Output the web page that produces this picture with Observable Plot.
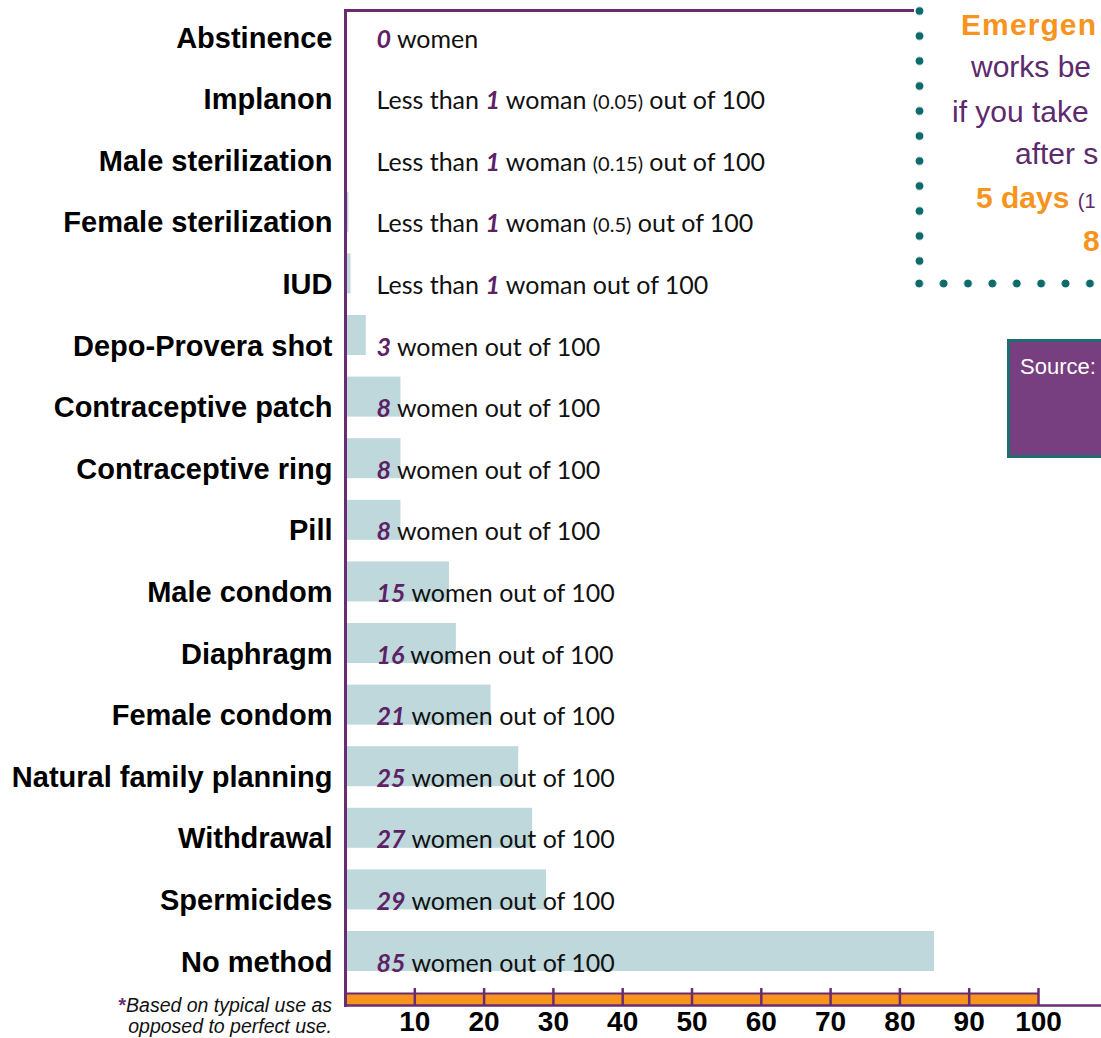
<!DOCTYPE html>
<html>
<head>
<meta charset="utf-8">
<script src="https://cdn.jsdelivr.net/npm/d3@7"></script>
<script src="https://cdn.jsdelivr.net/npm/@observablehq/plot@0.6"></script>
<style>
html, body { margin: 0; padding: 0; overflow: hidden; background: #fff; }
#wrap { position: relative; width: 1101px; height: 1038px; overflow: hidden; }
#chart svg { display: block; }
.callout { position: absolute; left: 914px; top: 0; width: 187px; height: 292px; background: #fff; overflow: hidden; }
.dotsV { position: absolute; left: 0.5px; top: 0; width: 9px; height: 274px;
  background-image: radial-gradient(circle, #0d6b6b 3.6px, rgba(13,107,107,0) 4.3px);
  background-size: 9px 25px; background-position: 0 -1.5px; background-repeat: repeat-y; }
.dotsH { position: absolute; left: -7.2px; top: 279px; width: 220px; height: 9px;
  background-image: radial-gradient(circle, #0d6b6b 3.6px, rgba(13,107,107,0) 4.3px);
  background-size: 24.4px 9px; background-position: 0 0; background-repeat: repeat-x; }
.cl { position: absolute; white-space: nowrap; font-family: "Liberation Sans", Arial, sans-serif; font-size: 30px; line-height: 30px; color: #5c2a6d; }
.cl b { color: #f7941d; font-weight: 700; }
.cl small { font-size: 20px; }
.source { position: absolute; left: 1007px; top: 339px; width: 220px; height: 119px; box-sizing: border-box;
  background: #773f7f; border: 3px solid #1f6d6e; color: #fff; font-family: "Liberation Sans", Arial, sans-serif;
  font-size: 22px; line-height: 22px; padding: 14px 0 0 10px; white-space: nowrap; overflow: hidden; }
.foot { position: absolute; right: 769px; top: 995px; text-align: right; font-family: "Liberation Sans", Arial, sans-serif;
  font-style: italic; font-size: 19.5px; line-height: 21px; color: #111; white-space: nowrap; }
.foot span { color: #6a2c70; font-weight: 700; font-style: normal; }
</style>
</head>
<body>
<div id="wrap">
  <div id="chart"></div>
  <div class="callout">
    <div class="dotsV"></div>
    <div class="dotsH"></div>
    <div class="cl" style="left:47px; top:10px; letter-spacing:1.1px;"><b>Emergen</b></div>
    <div class="cl" style="left:57px; top:52px;">works be</div>
    <div class="cl" style="left:38px; top:97px;">if you take</div>
    <div class="cl" style="left:101px; top:139px;">after s</div>
    <div class="cl" style="left:62px; top:183px;"><b>5 days</b> <small>(1</small></div>
    <div class="cl" style="left:169px; top:226px;"><b>8</b></div>
  </div>
  <div class="source">Source:</div>
  <div class="foot"><span>*</span>Based on typical use as<br>opposed to perfect use.</div>
</div>
<script>
// ---- data ----
const methods = [
  "Abstinence", "Implanon", "Male sterilization", "Female sterilization", "IUD",
  "Depo-Provera shot", "Contraceptive patch", "Contraceptive ring", "Pill", "Male condom",
  "Diaphragm", "Female condom", "Natural family planning", "Withdrawal", "Spermicides", "No method"
];
const failRates = [0, 0.05, 0.15, 0.5, 0.8, 3, 8, 8, 8, 15, 16, 21, 25, 27, 29, 85];
const labelBefore = ["", "Less than ", "Less than ", "Less than ", "Less than ", "", "", "", "", "", "", "", "", "", "", ""];
const labelNumber = ["0", "1", "1", "1", "1", "3", "8", "8", "8", "15", "16", "21", "25", "27", "29", "85"];
const labelAfter = [" women", " woman ", " woman ", " woman ", " woman out of 100",
  " women out of 100", " women out of 100", " women out of 100", " women out of 100", " women out of 100",
  " women out of 100", " women out of 100", " women out of 100", " women out of 100", " women out of 100", " women out of 100"];
const labelNote = ["", "(0.05)", "(0.15)", "(0.5)", "", "", "", "", "", "", "", "", "", "", "", ""];
const labelEnd = ["", " out of 100", " out of 100", " out of 100", "", "", "", "", "", "", "", "", "", "", "", ""];
const xTicks = [10, 20, 30, 40, 50, 60, 70, 80, 90, 100];

// ---- chart ----
const purple = "#6a2c70";
const numPurple = "#5d2166";
const orange = "#f7941d";
const barFill = "#bed8dc";
const rows = methods.map((m, i) => ({method: m, rate: failRates[i], i}));
const labelStrings = methods.map((_, i) => labelBefore[i] + labelNumber[i] + labelAfter[i] + labelNote[i] + labelEnd[i]);
const sans = "'Liberation Sans', Arial, sans-serif";
const labelFont = "Lato, 'Open Sans', sans-serif";

const chart = Plot.plot({
  width: 1101,
  height: 1038,
  marginLeft: 345,
  marginRight: 63,
  marginTop: 10,
  marginBottom: 33,
  style: {background: "white", color: "#000"},
  x: {domain: [0, 100]},
  y: {type: "band", domain: methods, range: [-3.8, 981.8], paddingInner: 0.3506, paddingOuter: 0.1753, round: false, axis: null},
  marks: [
    Plot.barX(rows, {x: "rate", y: "method", fill: barFill}),
    Plot.frame({anchor: "bottom", stroke: orange, strokeWidth: 12, strokeLinecap: "butt", insetBottom: 6}),
    Plot.frame({anchor: "bottom", stroke: purple, strokeWidth: 2, strokeLinecap: "butt", insetBottom: 12}),
    Plot.axisX({ticks: xTicks, tickSize: 17, dy: -17, fill: "none", label: null, stroke: purple, strokeWidth: 2.5}),
    Plot.frame({anchor: "bottom", stroke: purple, strokeWidth: 2.5, strokeLinecap: "butt", insetRight: -63}),
    Plot.frame({anchor: "left", stroke: purple, strokeWidth: 3}),
    Plot.frame({anchor: "top", stroke: purple, strokeWidth: 3}),
    Plot.axisX({ticks: xTicks, tickSize: 0, tickPadding: 6, label: null, fontSize: 28, fontWeight: "bold", fontFamily: sans, fill: "#000"}),
    Plot.text(rows, {y: "method", text: "method", frameAnchor: "left", textAnchor: "end", dx: -13, dy: 20,
      lineAnchor: "bottom", fontSize: 29, fontWeight: "bold", fontFamily: sans, fill: "#000"}),
    Plot.text(rows, {y: "method", text: (d) => labelStrings[d.i], frameAnchor: "left", textAnchor: "start", dx: 31, dy: 20,
      lineAnchor: "bottom", fontSize: 25, fontWeight: 400, fontFamily: labelFont, fill: "#111", ariaDescription: "rate-labels"})
  ]
});
document.getElementById("chart").appendChild(chart);

// split each rate label into styled pieces
const ns = "http://www.w3.org/2000/svg";
let group = chart.querySelector('g[aria-description="rate-labels"]');
if (!group) { const gs = chart.querySelectorAll('g[aria-label="text"]'); group = gs[gs.length - 1]; }
group.querySelectorAll("text").forEach((el, i) => {
  el.textContent = "";
  el.setAttribute("xml:space", "preserve");
  el.style.whiteSpace = "pre";
  const add = (s, attrs) => {
    if (!s) return;
    const t = document.createElementNS(ns, "tspan");
    t.textContent = s;
    if (attrs) for (const k in attrs) t.setAttribute(k, attrs[k]);
    el.appendChild(t);
  };
  add(labelBefore[i]);
  add(labelNumber[i], {fill: numPurple, "font-weight": 700, "font-style": "italic"});
  add(labelAfter[i]);
  add(labelNote[i], {"font-size": 20});
  add(labelEnd[i]);
});
</script>
</body>
</html>
